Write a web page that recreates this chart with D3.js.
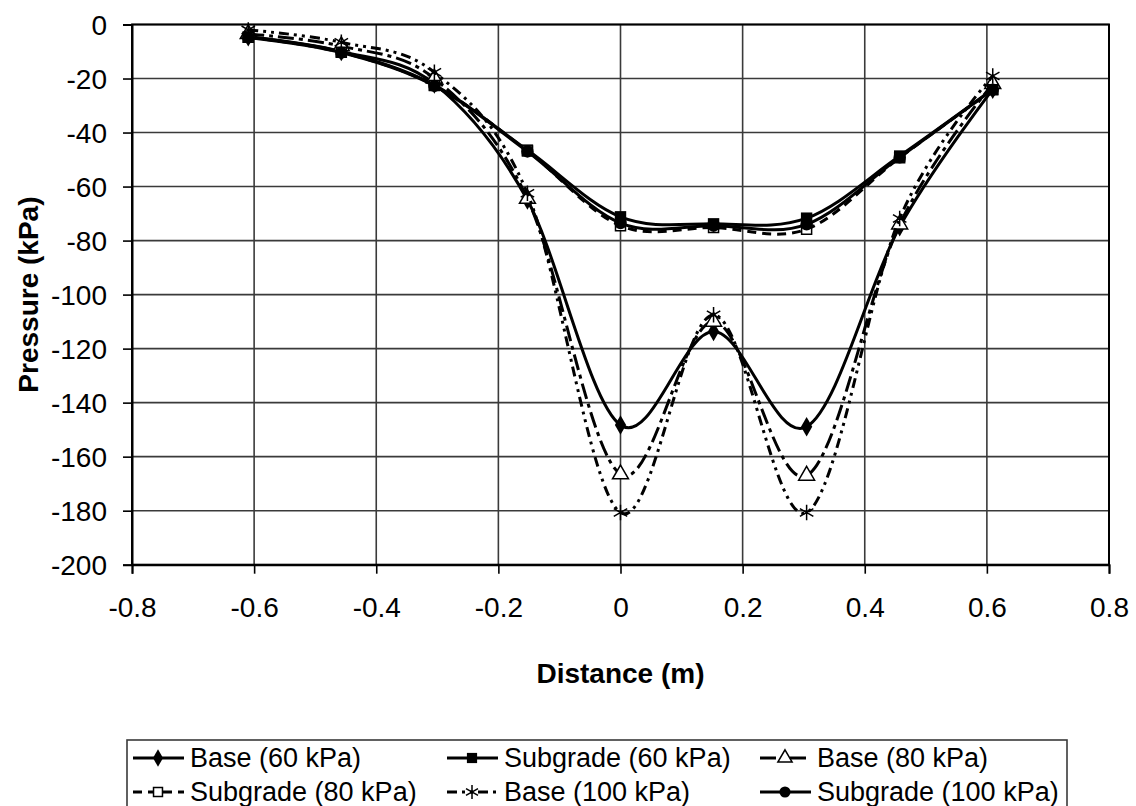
<!DOCTYPE html>
<html>
<head>
<meta charset="utf-8">
<script src="https://cdn.jsdelivr.net/npm/d3@7"></script>
<style>
  body { margin: 0; background: #fff; }
  svg text { font-family: "Liberation Sans", Arial, sans-serif; fill: #000; }
</style>
</head>
<body>
<svg width="1136" height="806"></svg>
<script>
// distance positions of the pressure cells (m)
const distance = [-0.6096, -0.4572, -0.3048, -0.1524, 0, 0.1524, 0.3048, 0.4572, 0.6096];

// pressure values (kPa)
const base60      = [-4.5, -10.0, -22.0, -65.0, -148.3, -113.7, -148.9, -74.9, -24.0];
const subgrade60  = [-4.7, -10.1, -22.4, -46.5, -71.2, -73.8, -71.7, -48.7, -24.0];
const base80      = [-3.5, -8.0, -20.0, -64.5, -166.5, -110.0, -167.0, -74.0, -22.0];
const subgrade80  = [-4.7, -10.3, -22.6, -46.8, -74.5, -75.2, -75.8, -49.3, -24.2];
const base100     = [-2.0, -6.6, -17.7, -62.5, -180.7, -107.5, -180.7, -71.8, -19.1];
const subgrade100 = [-4.8, -10.4, -22.7, -47.0, -73.5, -74.5, -74.0, -49.2, -24.1];

const xTicks = [-0.8, -0.6, -0.4, -0.2, 0, 0.2, 0.4, 0.6, 0.8];
const yTicks = [0, -20, -40, -60, -80, -100, -120, -140, -160, -180, -200];

const seriesNames = ["Base (60 kPa)", "Subgrade (60 kPa)", "Base (80 kPa)",
                     "Subgrade (80 kPa)", "Base (100 kPa)", "Subgrade (100 kPa)"];

const svg = d3.select("svg");
const plotLeft = 132, plotRight = 1109, plotTop = 24.5, plotBottom = 564.7;

const x = d3.scaleLinear().domain([-0.8, 0.8]).range([plotLeft, plotRight]);
const y = d3.scaleLinear().domain([-200, 0]).range([plotBottom, plotTop]);

// gridlines
svg.append("g").selectAll("line").data(yTicks).join("line")
    .attr("x1", plotLeft).attr("x2", plotRight)
    .attr("y1", d => y(d)).attr("y2", d => y(d))
    .attr("stroke", "#3a3a3a").attr("stroke-width", 1.6);
svg.append("g").selectAll("line").data(xTicks).join("line")
    .attr("x1", d => x(d)).attr("x2", d => x(d))
    .attr("y1", plotTop).attr("y2", plotBottom)
    .attr("stroke", "#3a3a3a").attr("stroke-width", 1.6);

// axes
const xAxis = svg.append("g")
    .attr("transform", `translate(0,${plotBottom})`)
    .call(d3.axisBottom(x).tickValues(xTicks).tickSize(9).tickPadding(23)
        .tickFormat(d => d === 0 ? "0" : d3.format(".1f")(d).replace("−", "-")));
const yAxis = svg.append("g")
    .attr("transform", `translate(${plotLeft},0)`)
    .call(d3.axisLeft(y).tickValues(yTicks).tickSize(9).tickPadding(16)
        .tickFormat(d => String(d)));
[xAxis, yAxis].forEach(g => {
    g.select(".domain").attr("stroke", "#000").attr("stroke-width", 2);
    g.selectAll(".tick line").attr("stroke", "#000").attr("stroke-width", 1.6);
    g.selectAll("text").attr("font-size", 28).attr("font-family", "Liberation Sans, Arial, sans-serif");
});
yAxis.selectAll("text").attr("dy", "0.35em");

// plot frame
svg.append("rect")
    .attr("x", plotLeft).attr("y", plotTop)
    .attr("width", plotRight - plotLeft).attr("height", plotBottom - plotTop)
    .attr("fill", "none").attr("stroke", "#000").attr("stroke-width", 2);

// axis titles
svg.append("text")
    .attr("x", (plotLeft + plotRight) / 2).attr("y", 683)
    .attr("text-anchor", "middle").attr("font-size", 28).attr("font-weight", "bold")
    .text("Distance (m)");
svg.append("text")
    .attr("transform", `translate(38,${(plotTop + plotBottom) / 2}) rotate(-90)`)
    .attr("text-anchor", "middle").attr("font-size", 28).attr("font-weight", "bold")
    .text("Pressure (kPa)");

// series styles
const styles = [
    {values: base60,      dash: null,            symbol: d3.symbolDiamond,  size: 110, fill: "#000", stroke: "none"},
    {values: subgrade60,  dash: null,            symbol: d3.symbolSquare,   size: 130, fill: "#000", stroke: "none"},
    {values: base80,      dash: "16,5,4,5",      symbol: d3.symbolTriangle, size: 110, fill: "#fff", stroke: "#000"},
    {values: subgrade80,  dash: "9,6",           symbol: d3.symbolSquare,   size: 100, fill: "#fff", stroke: "#000"},
    {values: base100,     dash: "10,5,3,5,3,5",  symbol: d3.symbolAsterisk, size: 170, fill: "none", stroke: "#000"},
    {values: subgrade100, dash: null,            symbol: d3.symbolCircle,   size: 120, fill: "#000", stroke: "none"}
];

const line = d3.line()
    .x(d => x(d.x))
    .y(d => y(d.y))
    .curve(d3.curveCardinal.tension(0));

const plot = svg.append("g");
styles.forEach((s, i) => {
    const pts = distance.map((d, j) => ({x: d, y: s.values[j]}));
    plot.append("path")
        .attr("d", line(pts))
        .attr("fill", "none")
        .attr("stroke", "#000")
        .attr("stroke-width", 3)
        .attr("stroke-dasharray", s.dash);
    plot.append("g").selectAll("path").data(pts).join("path")
        .attr("transform", d => `translate(${x(d.x)},${y(d.y)})`)
        .attr("d", d3.symbol(s.symbol, s.size))
        .attr("fill", s.fill)
        .attr("stroke", s.stroke)
        .attr("stroke-width", 1.5);
});

// legend
const legend = svg.append("g");
legend.append("rect")
    .attr("x", 127).attr("y", 740).attr("width", 940).attr("height", 72)
    .attr("fill", "#fff").attr("stroke", "#3a3a3a").attr("stroke-width", 1.6);
const colX = [133, 447, 760];
const rowY = [758, 792];
styles.forEach((s, i) => {
    const cx = colX[i % 3], cy = rowY[Math.floor(i / 3)];
    const item = legend.append("g").attr("transform", `translate(${cx},${cy})`);
    item.append("line")
        .attr("x1", 0).attr("x2", 51).attr("y1", 0).attr("y2", 0)
        .attr("stroke", "#000").attr("stroke-width", 3)
        .attr("stroke-dasharray", s.dash);
    item.append("path")
        .attr("transform", "translate(25,0)")
        .attr("d", d3.symbol(s.symbol, s.size * 0.8))
        .attr("fill", s.fill).attr("stroke", s.stroke).attr("stroke-width", 1.5);
    item.append("text")
        .attr("x", 57).attr("dy", "0.35em")
        .attr("font-size", 27)
        .text(seriesNames[i]);
});
</script>
</body>
</html>
